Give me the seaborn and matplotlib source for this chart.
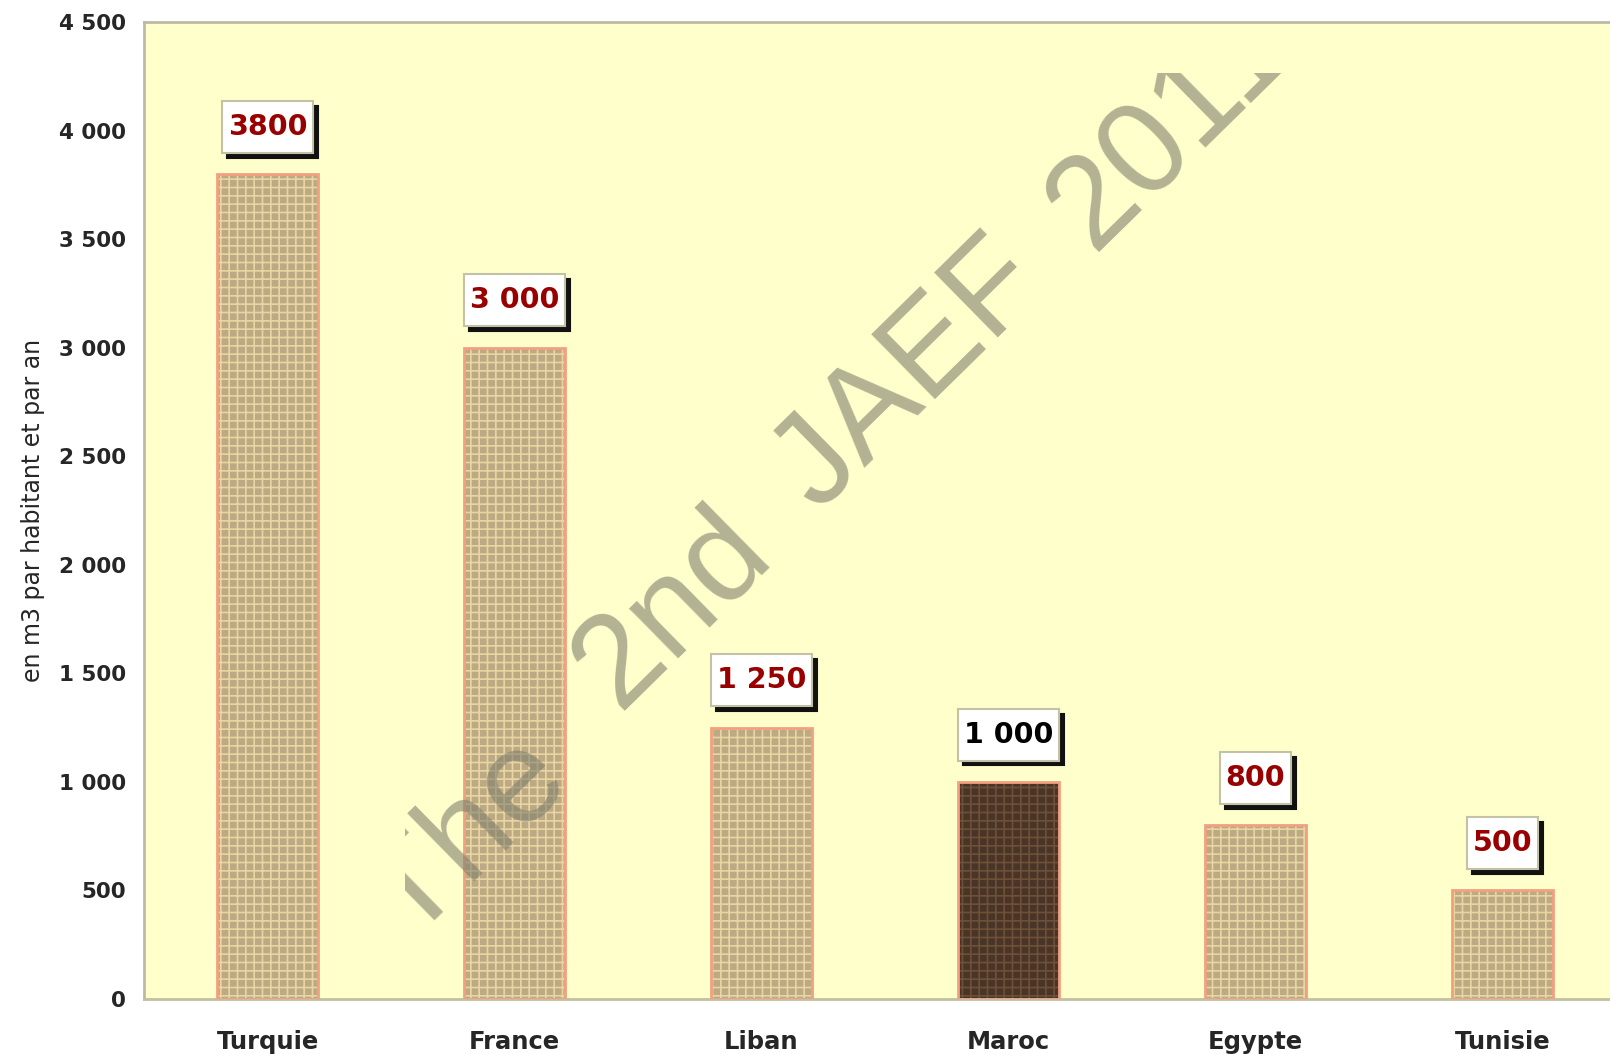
import matplotlib
matplotlib.use("Agg")
import matplotlib.pyplot as plt
from matplotlib.patches import Rectangle
from matplotlib.path import Path
from matplotlib.transforms import Bbox
from matplotlib.ticker import FuncFormatter, FixedLocator
import seaborn as sns

countries = ['Turquie', 'France', 'Liban', 'Maroc', 'Egypte', 'Tunisie']
values = [3800, 3000, 1250, 1000, 800, 500]
value_labels = ['3800', '3 000', '1 250', '1 000', '800', '500']
label_colors = ['#990000', '#990000', '#990000', '#000000', '#990000', '#990000']
bar_colors = ['#C6AC7A', '#C6AC7A', '#C6AC7A', '#4E3322', '#C6AC7A', '#C6AC7A']
hatch_colors = ['#E8D6A2', '#E8D6A2', '#E8D6A2', '#6E5038', '#E8D6A2', '#E8D6A2']

# watermark words and where each one starts (pixels from top-left)
wm_words = ['The', '2nd', 'JAEF', '2011']
wm_starts = [(410, 942), (618, 711), (818, 512), (1093, 252)]

sns.set_style("white")
plt.rcParams['font.family'] = ['DejaVu Sans']
plt.rcParams['hatch.linewidth'] = 1.2


def tall_box(x0, y0, width, height, mutation_size):
    # label box: small side padding, more room above and below
    px, py = 0.2 * mutation_size, 0.42 * mutation_size
    x0, y0, x1, y1 = x0 - px, y0 - py, x0 + width + px, y0 + height + py
    return Path([(x0, y0), (x1, y0), (x1, y1), (x0, y1), (x0, y0)], closed=True)


fig = plt.figure(figsize=(16.1, 10.54), dpi=100)
ax = fig.add_axes([144/1610, 55/1054, 1482/1610, 977/1054])
ax.set_facecolor('#FFFFCC')

sns.barplot(x=countries, y=values, hue=countries, palette=bar_colors,
            legend=False, width=0.41, ax=ax, zorder=2)

for p, hc in zip(ax.patches, hatch_colors):
    p.set_hatch('++')
    p.set_edgecolor(hc)
    p.set_linewidth(0)
    ax.add_patch(Rectangle((p.get_x(), p.get_y()), p.get_width(), p.get_height(),
                           fill=False, edgecolor='#F2A080', lw=2, zorder=3))

# value boxes with drop shadow
for i, (v, txt, c) in enumerate(zip(values, value_labels, label_colors)):
    ax.annotate(txt, (i, v), xytext=(3.5, 30.5), textcoords='offset points',
                ha='center', va='center', fontsize=20.5, fontweight='bold', color='#111111',
                bbox=dict(boxstyle=tall_box, fc='#111111', ec='#111111', lw=1.5),
                zorder=5)
    ax.annotate(txt, (i, v), xytext=(0, 34), textcoords='offset points',
                ha='center', va='center', fontsize=20.5, fontweight='bold', color=c,
                bbox=dict(boxstyle=tall_box, fc='white', ec='#C4C2A6', lw=1.5),
                zorder=6)

ax.set_xlim(-0.5, 5.5)
ax.set_ylim(0, 4500)
ax.set_yticks(range(0, 4501, 500))
ax.yaxis.set_major_formatter(FuncFormatter(lambda v, pos: f"{int(v):,}".replace(',', ' ')))

# category separators as major ticks, names as minor ticks
ax.xaxis.set_major_locator(FixedLocator([0.5, 1.5, 2.5, 3.5, 4.5]))
ax.xaxis.set_minor_locator(FixedLocator(range(len(countries))))
ax.set_xticklabels([], minor=False)
ax.set_xticklabels(countries, minor=True)
ax.tick_params(axis='x', which='major', length=9, width=1.5, color='#BDB9A8', direction='out')
ax.tick_params(axis='x', which='minor', length=0, pad=22, labelsize=17.5)
ax.tick_params(axis='y', length=7, width=1.5, color='#BDB9A8', direction='out', labelsize=15.5, pad=6)
for lab in ax.get_xticklabels(minor=True) + ax.get_yticklabels():
    lab.set_fontweight('bold')

ax.set_xlabel('')
ax.set_ylabel('en m3 par habitant et par an', fontsize=17, labelpad=10)

for s in ['left', 'top', 'right']:
    ax.spines[s].set_color('#BDB9A8')
    ax.spines[s].set_linewidth(2)
ax.spines['bottom'].set_color('#C2C0A0')
ax.spines['bottom'].set_linewidth(2)

# watermark, clipped like the original
clip = Bbox.from_extents(405, 0, 1610, 981)
for word, (px, py) in zip(wm_words, wm_starts):
    wm = fig.text(px/1610, 1 - py/1054, word, fontsize=95, color='#80806D', alpha=0.6,
                  rotation=44.5, rotation_mode='anchor', ha='left', va='baseline',
                  family='Liberation Sans', zorder=4)
    wm.set_clip_box(clip)
    wm.set_clip_on(True)

fig.savefig('out.png', dpi=100)
